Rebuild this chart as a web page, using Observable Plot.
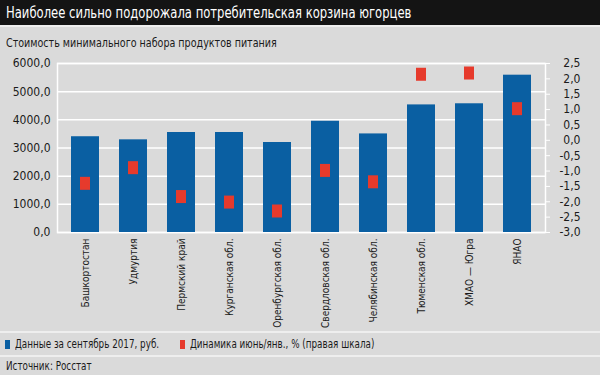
<!DOCTYPE html>
<html>
<head>
<meta charset="utf-8">
<script src="https://cdn.jsdelivr.net/npm/d3@7"></script>
<script src="https://cdn.jsdelivr.net/npm/@observablehq/plot@0.6"></script>
<style>
  html, body { margin: 0; padding: 0; }
  body { width: 600px; height: 375px; background: #dadada; position: relative; overflow: hidden;
         font-family: "Liberation Sans Narrow", "DejaVu Sans Condensed", "Liberation Sans", sans-serif; color: #1a1a1a; }
  #titlebar { position: absolute; left: 0; top: 0; width: 600px; height: 25px; background: #141414; }
  .txt { position: absolute; white-space: nowrap; transform-origin: 0 50%; }
  #title { left: 6px; top: 4px; color: #fff; font-size: 15px; transform: scaleX(0.86); }
  .sep { position: absolute; left: 0; width: 600px; height: 2px; background: #eeeeee; }
  #subtitle { left: 6px; top: 35px; font-size: 12.5px; transform: scaleX(0.85); }
  #chart { position: absolute; left: 0; top: 52px; }
  .sw { position: absolute; width: 5px; height: 9px; top: 340px; }
  .leg { top: 337px; font-size: 11.5px; transform: scaleX(0.85); }
  #source { left: 6px; top: 359px; font-size: 11.5px; transform: scaleX(0.85); }
</style>
</head>
<body>
<div id="titlebar"></div>
<div id="title" class="txt">Наиболее сильно подорожала потребительская корзина югорцев</div>
<div class="sep" style="top:25px"></div>
<div id="subtitle" class="txt">Стоимость минимального набора продуктов питания</div>
<div id="chart"></div>
<div class="sep" style="top:331px"></div>
<span class="sw" style="left:5px; background:#0a5fa2"></span>
<div class="txt leg" style="left:15px">Данные за сентябрь 2017, руб.</div>
<span class="sw" style="left:180px; background:#e63a2c"></span>
<div class="txt leg" style="left:190px">Динамика июнь/янв., % (правая шкала)</div>
<div class="sep" style="top:355px"></div>
<div id="source" class="txt">Источник: Росстат</div>
<script>
const regions = ["Башкортостан", "Удмуртия", "Пермский край", "Курганская обл.", "Оренбургская обл.",
  "Свердловская обл.", "Челябинская обл.", "Тюменская обл.", "ХМАО — Югра", "ЯНАО"];
const costs = [3400, 3290, 3550, 3550, 3195, 3950, 3500, 4530, 4570, 5585];
const dynamics = [-1.40, -0.89, -1.83, -2.01, -2.30, -0.98, -1.35, 2.15, 2.19, 1.03];
const leftTicks = [0, 1000, 2000, 3000, 4000, 5000, 6000];
const rightTicks = [-3.0, -2.5, -2.0, -1.5, -1.0, -0.5, 0.0, 0.5, 1.0, 1.5, 2.0, 2.5];

const blue = "#0a5fa2", red = "#e63a2c";
const leftMax = leftTicks[leftTicks.length - 1];
const rMin = rightTicks[0], rMax = rightTicks[rightTicks.length - 1];
const toLeft = v => (v - rMin) / (rMax - rMin) * leftMax;
const fromLeft = y => y / leftMax * (rMax - rMin) + rMin;
const fmt = v => v.toFixed(1).replace(".", ",");

const data = regions.map((r, i) => ({region: r, cost: costs[i], dyn: dynamics[i]}));

const chart = Plot.plot({
  width: 600,
  height: 280,
  marginTop: 11,
  marginBottom: 100,
  marginLeft: 57,
  marginRight: 55,
  style: {background: "transparent", fontFamily: '"Liberation Sans Narrow", "DejaVu Sans Condensed", sans-serif', color: "#1a1a1a"},
  x: {domain: regions, paddingInner: 0.42, paddingOuter: 0.21, axis: null, label: null},
  y: {domain: [0, leftMax], axis: null, label: null},
  marks: [
    Plot.gridY(leftTicks, {stroke: "white", strokeOpacity: 1, strokeWidth: 1.5}),
    Plot.frame({stroke: "white", strokeWidth: 1.5}),
    Plot.axisY(leftTicks, {anchor: "left", label: null, tickSize: 0, tickPadding: 7, tickFormat: fmt, fontSize: 12}),
    Plot.axisY(rightTicks.map(toLeft), {anchor: "right", label: null, tickSize: 4, tickPadding: 31, textAnchor: "end",
      stroke: "white", tickFormat: y => fmt(fromLeft(y)), fontSize: 12}),
    Plot.axisX({anchor: "bottom", label: null, tickSize: 0, tickPadding: 6, tickRotate: -90, fontSize: 10}),
    Plot.barY(data, {x: "region", y: "cost", fill: blue}),
    Plot.tickY(data, {x: "region", y: d => toLeft(d.dyn), stroke: red, strokeWidth: 13, insetLeft: 9, insetRight: 9})
  ]
});
document.getElementById("chart").appendChild(chart);
</script>
</body>
</html>
